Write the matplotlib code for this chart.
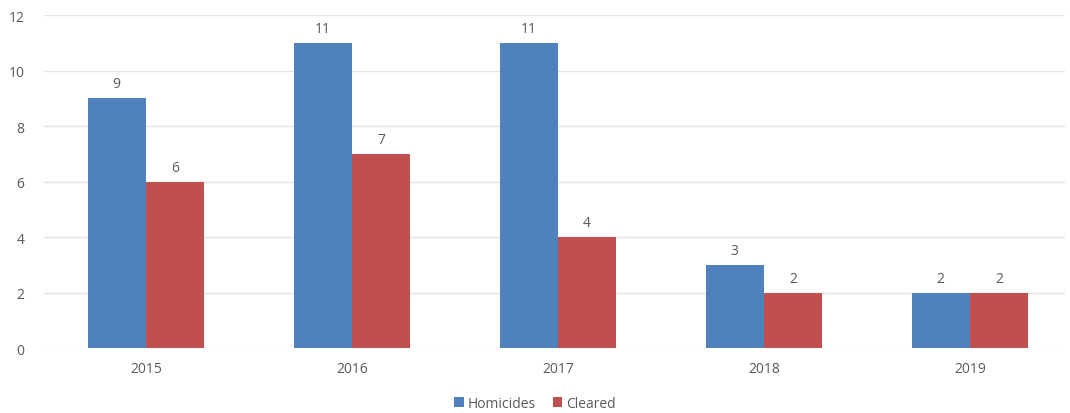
import matplotlib
matplotlib.use("Agg")
import matplotlib.pyplot as plt
import numpy as np

years = ["2015", "2016", "2017", "2018", "2019"]
homicides = [9, 11, 11, 3, 2]
cleared = [6, 7, 4, 2, 2]

plt.rcParams['font.family'] = ['Open Sans', 'DejaVu Sans']
text_color = "#595959"

fig = plt.figure(figsize=(10.7, 4.14), dpi=100)
ax = fig.add_axes([0.041, 0.157, 0.954, 0.804])

x = np.arange(len(years))
w = 0.283
b1 = ax.bar(x - w / 2, homicides, w, color="#4F81BD", label="Homicides", zorder=3)
b2 = ax.bar(x + w / 2, cleared, w, color="#C0504D", label="Cleared", zorder=3)

for bars in (b1, b2):
    for r in bars:
        ax.annotate(f"{int(r.get_height())}", (r.get_x() + r.get_width() / 2, r.get_height()),
                    xytext=(0, 5), textcoords="offset points", ha="center", va="bottom",
                    fontsize=10, color=text_color)

ax.set_xlim(-0.495, 4.46)
ax.set_ylim(0, 12)
ax.set_yticks(range(0, 13, 2))
ax.set_xticks(x)
ax.set_xticklabels(years)
ax.grid(axis="y", color="#E3E3E3", linewidth=1, zorder=0)
for s in ax.spines.values():
    s.set_visible(False)
ax.tick_params(length=0, labelsize=10, colors=text_color)
ax.tick_params(axis="x", pad=9)
ax.tick_params(axis="y", pad=14)

fig.legend(loc="lower center", bbox_to_anchor=(0.5, -0.025), ncol=2, frameon=False,
           fontsize=10, labelcolor=text_color, handlelength=0.7, handleheight=0.7,
           handletextpad=0.3, columnspacing=1.2)

fig.savefig("out.png", dpi=100)
